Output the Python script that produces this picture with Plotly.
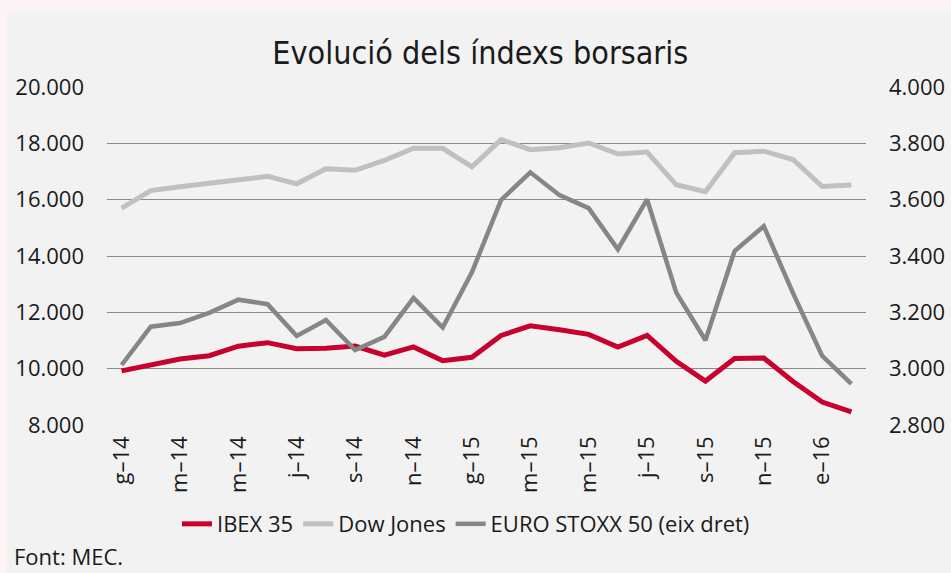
import plotly.graph_objects as go

months = list(range(26))
tick_idx = [0, 2, 4, 6, 8, 10, 12, 14, 16, 18, 20, 22, 24]
tick_labels = ["g–14", "m–14", "m–14", "j–14", "s–14", "n–14", "g–15",
               "m–15", "m–15", "j–15", "s–15", "n–15", "e–16"]

ibex = [9920, 10114, 10340, 10459, 10798, 10923, 10708, 10729, 10800, 10478,
        10771, 10280, 10404, 11178, 11521, 11385, 11218, 10770, 11181, 10260,
        9560, 10360, 10376, 9544, 8816, 8467]
dow = [15698, 16322, 16458, 16581, 16717, 16827, 16563, 17098, 17043, 17391,
       17828, 17823, 17165, 18133, 17776, 17841, 18011, 17620, 17690, 16528,
       16285, 17664, 17720, 17425, 16466, 16517]
stoxx = [3013, 3149, 3162, 3198, 3245, 3229, 3116, 3173, 3066, 3113,
         3251, 3146, 3342, 3599, 3697, 3616, 3570, 3424, 3601, 3270,
         3101, 3418, 3506, 3268, 3045, 2946]

FONT = "Open Sans, Noto Sans, sans-serif"
fig = go.Figure()
fig.add_trace(go.Scatter(x=months, y=ibex, name="IBEX 35", mode="lines",
                         line=dict(color="#c8002d", width=5)))
fig.add_trace(go.Scatter(x=months, y=dow, name="Dow Jones", mode="lines",
                         line=dict(color="#c0c0c0", width=5)))
fig.add_trace(go.Scatter(x=months, y=stoxx, name="EURO STOXX 50 (eix dret)", mode="lines",
                         line=dict(color="#868686", width=4.5), yaxis="y2"))

fig.update_layout(
    width=951, height=573,
    margin=dict(l=107, r=85, t=87, b=148, autoexpand=False),
    paper_bgcolor="#fcf4f4",
    plot_bgcolor="rgba(0,0,0,0)",
    separators=",.",
    font=dict(family=FONT, size=22, color="#1a1a1a"),
    title=dict(text="Evolució dels índexs borsaris", x=0.505, xref="container",
               y=1 - 53 / 573, yref="container", xanchor="center", yanchor="middle",
               font=dict(family="Liberation Sans Narrow, DejaVu Sans Condensed, sans-serif",
                         size=32, color="#1a1a1a")),
    xaxis=dict(range=[-0.5, 25.5], tickvals=tick_idx, ticktext=tick_labels,
               tickangle=-90, showgrid=False, zeroline=False, showline=False,
               ticks="", ticklabelstandoff=6, fixedrange=True, automargin=False),
    yaxis=dict(range=[8000, 20000], dtick=2000, tick0=8000, tickformat=",d",
               showgrid=True, gridcolor="#8a8a8a", gridwidth=1, zeroline=False,
               showline=False, ticks="", ticklabelstandoff=22, automargin=False),
    yaxis2=dict(range=[2800, 4000], dtick=200, tick0=2800, tickformat=",d",
                overlaying="y", side="right", showgrid=False, zeroline=False,
                showline=False, ticks="", ticklabelstandoff=22, automargin=False),
    showlegend=True,
    legend=dict(orientation="h", x=0.473, xanchor="center", y=-0.293, yanchor="middle",
                bgcolor="rgba(0,0,0,0)", font=dict(size=22), traceorder="normal"),
    shapes=[dict(type="rect", xref="paper", yref="paper",
                 x0=(7 - 107) / 759, x1=(951 - 107) / 759 + 0.01,
                 y0=(425 - 580) / 338, y1=(425 - 11) / 338,
                 fillcolor="#f2f2f2", line=dict(width=0), layer="below")],
    annotations=[dict(text="Font: MEC.", xref="paper", yref="paper",
                      x=(12 - 107) / 759, y=(425 - 556) / 338, xanchor="left",
                      yanchor="middle", showarrow=False, font=dict(size=22))],
)

fig.write_html("out.html", config={"displayModeBar": False},
               post_script="document.body.style.margin='0';document.body.style.padding='0';"
                           "document.body.style.overflow='hidden';")
